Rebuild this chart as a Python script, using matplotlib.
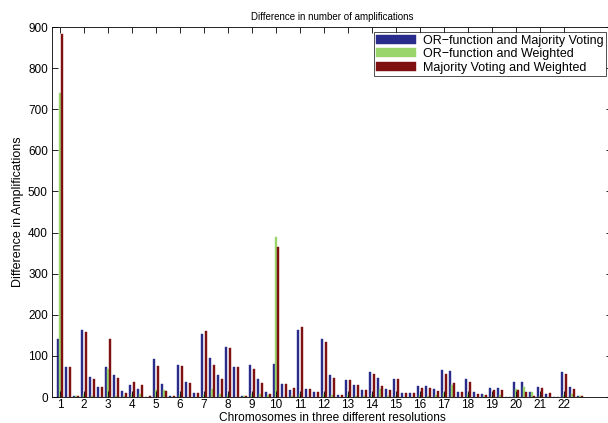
import numpy as np
import matplotlib.pyplot as plt

plt.rcParams['font.family'] = ['Liberation Sans', 'DejaVu Sans']

CHROMOSOMES = [str(i) for i in range(1, 23)]

# three resolutions per chromosome -> 66 groups
or_majority = [
    141, 73, 2, 162, 49, 24, 73, 53, 15, 28, 20, 1, 92, 31, 2, 78, 36, 10,
    153, 94, 53, 121, 74, 2, 78, 43, 13, 80, 32, 16, 164, 19, 12, 140, 53, 5,
    42, 29, 17, 61, 46, 20, 43, 10, 9, 27, 27, 19, 66, 63, 12, 43, 12, 8,
    21, 21, 1, 37, 37, 12, 24, 7, 1, 60, 25, 2,
]
or_weighted = [
    740, 1, 2, 8, 3, 1, 68, 3, 2, 7, 7, 1, 17, 16, 1, 5, 1, 1,
    4, 19, 8, 4, 1, 2, 8, 8, 5, 388, 1, 3, 8, 1, 1, 8, 5, 1,
    4, 2, 2, 5, 20, 2, 3, 1, 1, 5, 3, 4, 10, 29, 1, 8, 1, 2,
    2, 5, 1, 19, 24, 12, 2, 1, 1, 5, 7, 2,
]
majority_weighted = [
    882, 73, 2, 158, 44, 24, 141, 46, 10, 37, 28, 2, 75, 15, 2, 75, 35, 10,
    160, 78, 45, 120, 74, 2, 67, 33, 7, 366, 32, 22, 170, 19, 12, 135, 47, 5,
    41, 28, 16, 56, 27, 18, 43, 10, 9, 21, 22, 15, 56, 34, 12, 37, 8, 5,
    18, 18, 1, 16, 12, 2, 22, 10, 1, 55, 19, 2,
]

series = [
    ("OR\u2212function and Majority Voting", or_majority, "#2a2c8c"),
    ("OR\u2212function and Weighted", or_weighted, "#9ad56c"),
    ("Majority Voting and Weighted", majority_weighted, "#7e1012"),
]

x = np.arange(1, len(or_majority) + 1)
width = 0.27

fig = plt.figure(figsize=(6.08, 4.23), dpi=100)
ax = fig.add_axes([52 / 608, 26 / 423, 560 / 608, 370 / 423])

for i, (label, values, color) in enumerate(series):
    ax.bar(x + (i - 1) * width, values, width, color=color, label=label,
           edgecolor=color, linewidth=0.3)

ax.set_xlim(0, 70)
ax.set_ylim(0, 900)
ax.set_xticks(x[::3])
ax.set_xticklabels(CHROMOSOMES)
ax.set_yticks(range(0, 901, 100))
ax.tick_params(direction='in', length=4, labelsize=8.5, top=True, right=True,
               width=0.6, pad=3)
ax.tick_params(axis='x', pad=1.5)
for spine in ax.spines.values():
    spine.set_linewidth(0.6)

ax.set_title("Difference in number of amplifications", fontsize=7, pad=5)
ax.set_xlabel("Chromosomes in three different resolutions", fontsize=8.6,
              labelpad=0.5)
ax.set_ylabel("Difference in Amplifications", fontsize=9, labelpad=3)

leg = ax.legend(loc='upper right', bbox_to_anchor=(554 / 560, 365 / 370),
                fontsize=9, frameon=True, fancybox=False, handlelength=3.2,
                handleheight=0.75, labelspacing=0.12, borderpad=0.22,
                handletextpad=0.5, borderaxespad=0)
leg.get_frame().set_edgecolor('black')
leg.get_frame().set_linewidth(0.6)

fig.savefig("out.png", dpi=100)
